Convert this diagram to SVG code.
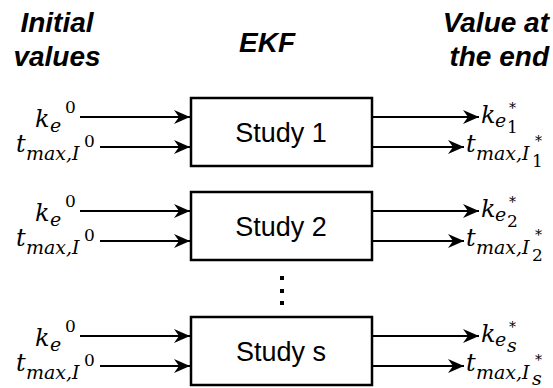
<svg xmlns="http://www.w3.org/2000/svg" width="553" height="388" viewBox="0 0 553 388">
<style>
.title{font-family:"Liberation Sans",Arial,sans-serif;font-weight:bold;font-style:italic;font-size:28px;fill:#000}
.box{fill:#fff;stroke:#000;stroke-width:2.5}
.lbl{font-family:"Liberation Sans",Arial,sans-serif;font-size:27px;fill:#000;text-anchor:middle}
.ln{stroke:#000;stroke-width:2;fill:none;marker-end:url(#ah)}
.m{font-family:"DejaVu Serif",serif;font-style:italic;font-size:24px;fill:#000}
.ms{font-family:"DejaVu Serif",serif;font-style:italic;font-size:19px;fill:#000}
.mn{font-family:"DejaVu Serif",serif;font-size:17px;fill:#000}
.st{font-family:"DejaVu Serif",serif;font-size:14px;fill:#000}
</style>
<defs>
<marker id="ah" viewBox="0 0 16 14" refX="16" refY="7" markerWidth="16" markerHeight="14" markerUnits="userSpaceOnUse" orient="auto">
<path d="M0,0 L16,7 L0,14 L5,7 z" fill="#000"/>
</marker>
</defs>
<g id="titles">
<text class="title" x="57" y="32" text-anchor="middle">Initial</text>
<text class="title" x="57" y="66" text-anchor="middle">values</text>
<text class="title" x="267" y="52" text-anchor="middle">EKF</text>
<text class="title" x="549" y="32" text-anchor="end">Value at</text>
<text class="title" x="549" y="66" text-anchor="end">the end</text>
</g>
<g id="connectors">
<line class="ln" x1="80" y1="117" x2="190" y2="117"/>
<line class="ln" x1="100" y1="147" x2="190" y2="147"/>
<line class="ln" x1="372" y1="117" x2="479" y2="117"/>
<line class="ln" x1="372" y1="147" x2="464" y2="147"/>
<line class="ln" x1="80" y1="211" x2="190" y2="211"/>
<line class="ln" x1="100" y1="241" x2="190" y2="241"/>
<line class="ln" x1="372" y1="211" x2="479" y2="211"/>
<line class="ln" x1="372" y1="241" x2="464" y2="241"/>
<line class="ln" x1="80" y1="336" x2="190" y2="336"/>
<line class="ln" x1="100" y1="366" x2="190" y2="366"/>
<line class="ln" x1="372" y1="336" x2="479" y2="336"/>
<line class="ln" x1="372" y1="366" x2="464" y2="366"/>
</g>
<g id="study1">
<rect class="box" x="191" y="98" width="181" height="68"/>
<text class="lbl" x="281" y="142">Study 1</text>
</g>
<g id="study2">
<rect class="box" x="191" y="192" width="181" height="68"/>
<text class="lbl" x="281" y="236">Study 2</text>
</g>
<g id="studys">
<rect class="box" x="191" y="317" width="181" height="68"/>
<text class="lbl" x="281" y="361">Study s</text>
</g>
<g id="dots" fill="#000">
<rect x="280" y="276" width="4" height="4"/>
<rect x="280" y="289" width="4" height="4"/>
<rect x="280" y="301" width="4" height="4"/>
</g>
<g id="inputs1" transform="translate(0,117)">
<text class="m" x="35" y="10">k</text><text class="ms" x="50" y="15">e</text><text class="mn" x="65" y="-4">0</text>
<text class="m" x="16" y="35">t</text><text class="ms" x="26" y="43">max,I</text><text class="mn" x="84" y="30">0</text>
</g>
<g id="inputs2" transform="translate(0,211)">
<text class="m" x="35" y="10">k</text><text class="ms" x="50" y="15">e</text><text class="mn" x="65" y="-4">0</text>
<text class="m" x="16" y="35">t</text><text class="ms" x="26" y="43">max,I</text><text class="mn" x="84" y="30">0</text>
</g>
<g id="inputss" transform="translate(0,336)">
<text class="m" x="35" y="10">k</text><text class="ms" x="50" y="15">e</text><text class="mn" x="65" y="-4">0</text>
<text class="m" x="16" y="35">t</text><text class="ms" x="26" y="43">max,I</text><text class="mn" x="84" y="30">0</text>
</g>
<g id="outputs1" transform="translate(0,117)">
<text class="m" x="481" y="6">k</text><text class="ms" x="495" y="10">e</text><text class="mn" x="507" y="16">1</text><text class="st" x="509" y="-4">*</text>
<text class="m" x="466" y="35">t</text><text class="ms" x="476" y="43">max,I</text><text class="mn" x="532" y="50">1</text><text class="st" x="535" y="29">*</text>
</g>
<g id="outputs2" transform="translate(0,211)">
<text class="m" x="481" y="6">k</text><text class="ms" x="495" y="10">e</text><text class="mn" x="507" y="16">2</text><text class="st" x="509" y="-4">*</text>
<text class="m" x="466" y="35">t</text><text class="ms" x="476" y="43">max,I</text><text class="mn" x="532" y="50">2</text><text class="st" x="535" y="29">*</text>
</g>
<g id="outputss" transform="translate(0,336)">
<text class="m" x="481" y="6">k</text><text class="ms" x="495" y="10">e</text><text class="ms" x="507" y="16">s</text><text class="st" x="509" y="-4">*</text>
<text class="m" x="466" y="35">t</text><text class="ms" x="476" y="43">max,I</text><text class="ms" x="532" y="49">s</text><text class="st" x="535" y="29">*</text>
</g>
</svg>
